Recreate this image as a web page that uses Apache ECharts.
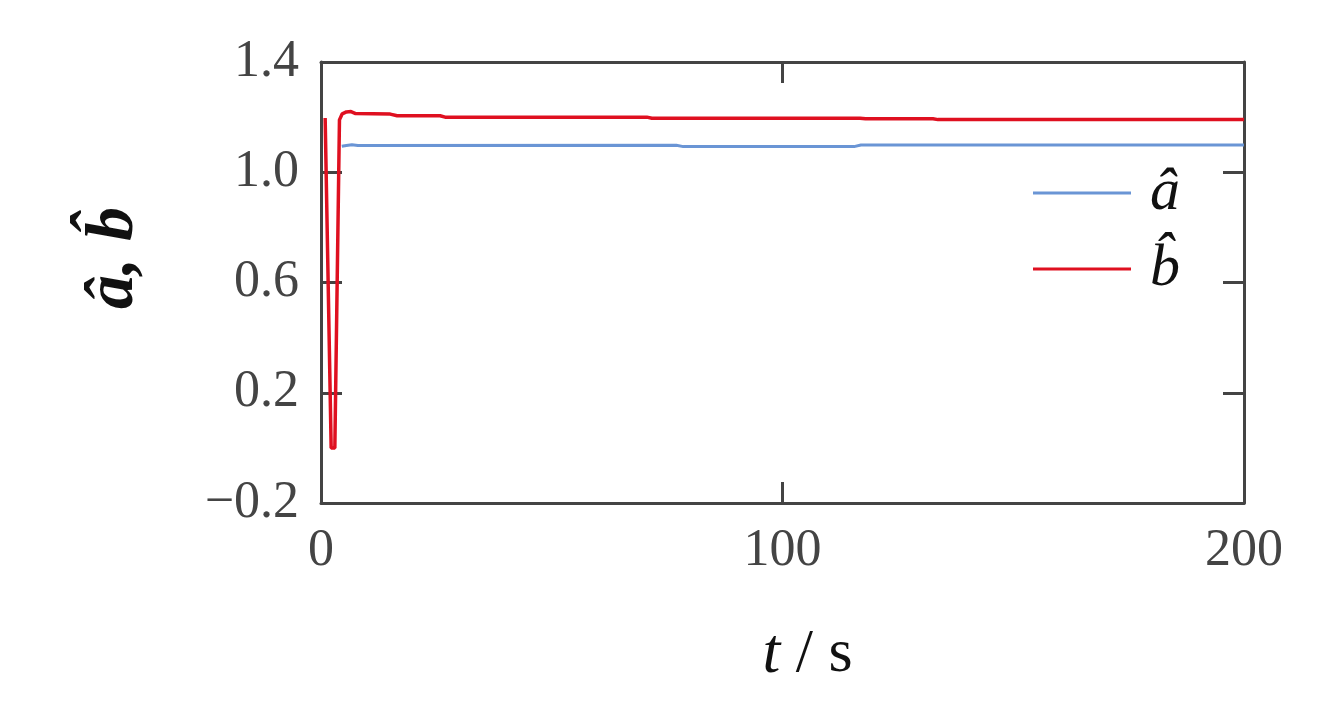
<!DOCTYPE html>
<html>
<head>
<meta charset="utf-8">
<script src="https://cdn.jsdelivr.net/npm/echarts@6/dist/echarts.min.js"></script>
<style>html,body{margin:0;padding:0;background:#fff}#c{width:1321px;height:712px}</style>
</head>
<body>
<div id="c"></div>
<script>
// ---- data ----
var seriesNames = ['\u00e2', 'b\u0302'];
var aHatT = [4.5, 5.5, 6.7, 8, 77, 78.5, 115.5, 117, 200];
var aHatV = [1.094, 1.097, 1.100, 1.097, 1.098, 1.093, 1.093, 1.099, 1.099];
var bHatT = [0.9, 2.2, 3.0, 4.0, 4.6, 5.5, 6.5, 7.5, 15, 16.5, 25.8, 26.9, 70.6, 71.7, 116.8, 118, 132.6, 133.7, 200];
var bHatV = [1.197, 0.0, 0.0, 1.19, 1.212, 1.219, 1.220, 1.213, 1.211, 1.205, 1.205, 1.200, 1.200, 1.196, 1.196, 1.194, 1.194, 1.191, 1.191];
var xTicks = [0, 100, 200];
var yTicks = [-0.2, 0.2, 0.6, 1.0, 1.4];

function pairs(t, v) { return t.map(function (x, i) { return [x, v[i]]; }); }

var FONT = 'Liberation Serif';
var AX = '#444444';
var chart = echarts.init(document.getElementById('c'), null, {renderer: 'canvas'});
function yFmt(v) {
  var s = Math.abs(v).toFixed(1);
  return v < -1e-9 ? '\u2212' + s : s;
}
function tick(extra) {
  return Object.assign({show: true, inside: true, length: 21, lineStyle: {color: AX, width: 3}}, extra || {});
}
var line = {show: true, onZero: false, lineStyle: {color: AX, width: 3}};
chart.setOption({
  backgroundColor: '#ffffff',
  animation: false,
  grid: {left: 321, right: 77, top: 62, bottom: 209, containLabel: false},
  xAxis: [{
    type: 'value', position: 'bottom', min: 0, max: 200, interval: 100,
    axisLine: line,
    axisTick: tick({customValues: xTicks}),
    axisLabel: {customValues: xTicks, color: AX, fontFamily: FONT, fontSize: 52, margin: 22},
    splitLine: {show: false},
    name: '{i|t} / s', nameLocation: 'middle', nameGap: 120,
    nameTextStyle: {color: '#111', fontFamily: FONT, fontSize: 62, padding: [0, 0, 0, 50],
      rich: {i: {fontFamily: FONT, fontStyle: 'italic', fontSize: 64, color: '#111'}}}
  }, {
    type: 'value', position: 'top', min: 0, max: 200, interval: 100,
    axisLine: line,
    axisTick: tick({customValues: xTicks}), axisLabel: {show: false}, splitLine: {show: false}
  }],
  yAxis: [{
    type: 'value', position: 'left', min: -0.2, max: 1.4,
    axisLine: line,
    axisTick: tick({customValues: yTicks}),
    axisLabel: {customValues: yTicks, formatter: yFmt, color: AX, fontFamily: FONT, fontSize: 52, margin: 22},
    splitLine: {show: false}
  }, {
    type: 'value', position: 'right', min: -0.2, max: 1.4,
    axisLine: line,
    axisTick: tick({customValues: yTicks}),
    axisLabel: {show: false}, splitLine: {show: false}
  }],
  legend: {
    orient: 'vertical', right: 136, top: 158,
    icon: 'rect', itemWidth: 98, itemHeight: 3, itemGap: 16,
    textStyle: {fontFamily: FONT, fontStyle: 'italic', fontSize: 60, color: '#111', lineHeight: 56, padding: [0, 0, 0, 14]},
    data: seriesNames
  },
  graphic: [{
    type: 'text', x: 114, y: 258, rotation: Math.PI / 2,
    style: {text: '\u00e2, b\u0302', font: 'italic bold 68px "Liberation Serif"', fill: '#111', align: 'center', verticalAlign: 'middle'}
  }],
  series: [{
    name: seriesNames[0], type: 'line', xAxisIndex: 0, yAxisIndex: 0,
    data: pairs(aHatT, aHatV), symbol: 'none', z: 2,
    lineStyle: {color: '#6a95d5', width: 3}, itemStyle: {color: '#6a95d5'}
  }, {
    name: seriesNames[1], type: 'line', xAxisIndex: 0, yAxisIndex: 0,
    data: pairs(bHatT, bHatV), symbol: 'none', z: 3,
    lineStyle: {color: '#df1020', width: 3.5}, itemStyle: {color: '#df1020'}
  }]
});
</script>
</body>
</html>
